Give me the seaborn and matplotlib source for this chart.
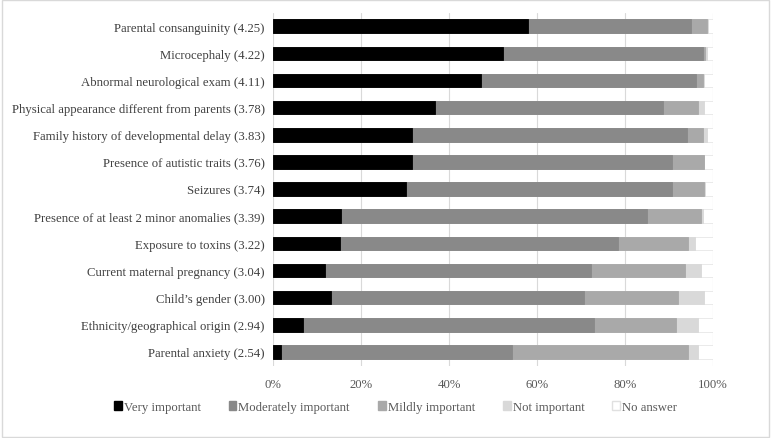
# Stacked horizontal bars: importance ratings of referral factors.

import seaborn as sns
import matplotlib.pyplot as plt
import matplotlib.patches as mpatches
import pandas as pd

# Data (percent of respondents)
factors = [
    'Parental consanguinity (4.25)',
    'Microcephaly (4.22)',
    'Abnormal neurological exam (4.11)',
    'Physical appearance different from parents (3.78)',
    'Family history of developmental delay (3.83)',
    'Presence of autistic traits (3.76)',
    'Seizures (3.74)',
    'Presence of at least 2 minor anomalies (3.39)',
    'Exposure to toxins (3.22)',
    'Current maternal pregnancy (3.04)',
    'Child\u2019s gender (3.00)',
    'Ethnicity/geographical origin (2.94)',
    'Parental anxiety (2.54)',
]
very = [58.0, 52.3, 47.3, 36.7, 31.7, 31.7, 30.3, 15.4, 15.3, 11.9, 13.3, 6.9, 1.9]
moderately = [36.9, 45.3, 48.9, 51.8, 62.4, 59.0, 60.4, 69.5, 63.1, 60.3, 57.4, 66.0, 52.5]
mildly = [3.7, 0.6, 1.5, 8.0, 3.6, 7.2, 7.3, 12.3, 15.8, 21.5, 21.4, 18.6, 39.9]
not_important = [0.3, 0.4, 0.3, 1.5, 0.8, 0.1, 0.1, 0.5, 1.6, 3.6, 5.9, 5.1, 2.2]
no_answer = [round(100 - a - b - c - d, 1) for a, b, c, d in
             zip(very, moderately, mildly, not_important)]

series = ['Very important', 'Moderately important', 'Mildly important',
          'Not important', 'No answer']
colors = ['#000000', '#898989', '#a9a9a9', '#d9d9d9', '#ffffff']

df = pd.DataFrame({'Factor': factors, 'Very important': very,
                   'Moderately important': moderately,
                   'Mildly important': mildly,
                   'Not important': not_important, 'No answer': no_answer})
cum = df[series].cumsum(axis=1)
cum['Factor'] = df['Factor']

sns.set_style('white')
plt.rcParams['font.family'] = ['Liberation Serif', 'DejaVu Serif']

fig = plt.figure(figsize=(7.71, 4.39), dpi=100)
ax = fig.add_axes([0.354, 0.165, 0.571, 0.804])

# draw the cumulative totals from the right-most segment inwards
for name, col in reversed(list(zip(series, colors))):
    edge = '#e6e6e6' if name == 'No answer' else col
    sns.barplot(data=cum, x=name, y='Factor', color=col, width=0.5,
                edgecolor=edge, linewidth=0.6, saturation=1, ax=ax, zorder=3)

ax.set_xlim(0, 100)
ax.set_xticks(range(0, 101, 20))
ax.set_xticklabels([f'{v}%' for v in range(0, 101, 20)], fontsize=9.2, color='#595959')
ax.tick_params(axis='y', labelsize=9.2, length=0, pad=6, labelcolor='#404040')
ax.tick_params(axis='x', length=0, pad=9)
ax.set_xlabel('')
ax.set_ylabel('')
ax.grid(axis='x', color='#d9d9d9', linewidth=0.8, zorder=0)
ax.set_axisbelow(True)
for s in ax.spines.values():
    s.set_visible(False)

handles = [mpatches.Patch(facecolor=c, edgecolor='#e0e0e0' if c == '#ffffff' else c)
           for c in colors]
fig.legend(handles, series, loc='center', bbox_to_anchor=(0.513, 0.07), ncol=5,
           frameon=False, fontsize=9.2, handlelength=0.6, handleheight=0.7,
           handletextpad=0.15, columnspacing=2.2, labelcolor='#595959')

fig.patches.append(mpatches.Rectangle((0.002, 0.003), 0.996, 0.994,
                                      transform=fig.transFigure, fill=False,
                                      edgecolor='#d9d9d9', linewidth=1))

fig.savefig('out.png', dpi=100)
